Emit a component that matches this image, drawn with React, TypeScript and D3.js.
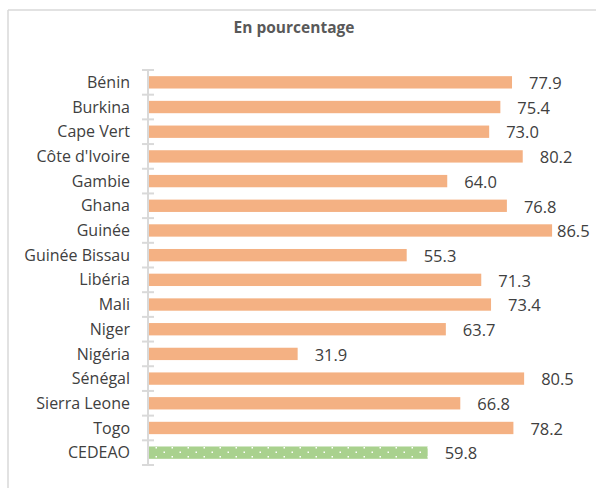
import React from "react";
import * as d3 from "d3";

const categories = ["Bénin", "Burkina", "Cape Vert", "Côte d'Ivoire", "Gambie", "Ghana", "Guinée", "Guinée Bissau", "Libéria", "Mali", "Niger", "Nigéria", "Sénégal", "Sierra Leone", "Togo", "CEDEAO"];
const values = [77.9, 75.4, 73.0, 80.2, 64.0, 76.8, 86.5, 55.3, 71.3, 73.4, 63.7, 31.9, 80.5, 66.8, 78.2, 59.8];
const title = "En pourcentage";

const W = 596;
const H = 488;

export default function App() {
  const x = d3.scaleLinear().domain([0, 100]).range([149, 615]);
  const y = d3.scaleBand<string>().domain(categories).range([70, 465]).paddingInner(0.5).paddingOuter(0.25);
  const bw = y.bandwidth();
  const tickYs = d3.range(categories.length + 1).map((i) => 70 + i * (395 / categories.length));
  const font = "'Open Sans', 'DejaVu Sans', sans-serif";
  return (
    <svg width={W} height={H} style={{ position: "absolute", left: 0, top: 0, background: "#fff" }}>
      <defs>
        <pattern id="dots" width={16} height={9} patternUnits="userSpaceOnUse">
          <rect width={16} height={9} fill="#a9d18e" />
          <rect x={3.5} y={1.5} width={1.5} height={1.5} fill="#ffffff" />
          <rect x={11.5} y={6} width={1.5} height={1.5} fill="#ffffff" />
        </pattern>
      </defs>
      <line x1={8} x2={8} y1={10} y2={H} stroke="#d9d9d9" strokeWidth={1.5} />
      <line x1={8} x2={W} y1={10} y2={10} stroke="#d9d9d9" strokeWidth={1.5} />
      <text x={294} y={33} textAnchor="middle" fontFamily={font} fontWeight="bold" fontSize={15.5} fill="#595959">
        {title}
      </text>
      <line x1={148} x2={148} y1={70} y2={465} stroke="#d9d9d9" strokeWidth={2} />
      {tickYs.map((t, i) => (
        <line key={i} x1={142} x2={154} y1={t} y2={t} stroke="#d9d9d9" strokeWidth={2} />
      ))}
      {categories.map((c, i) => {
        const yy = y(c)!;
        const last = c === "CEDEAO";
        const lx = Math.min(x(values[i]) + 17, 557);
        return (
          <g key={c}>
            <rect x={x(0)} y={yy} width={x(values[i]) - x(0)} height={bw} fill={last ? "url(#dots)" : "#f4b183"} />
            <text x={130} y={yy + bw / 2} dy="0.35em" textAnchor="end" fontFamily={font} fontSize={16} fill="#404040">
              {c}
            </text>
            <text x={lx} y={yy + bw / 2 + 1} dy="0.35em" fontFamily={font} fontSize={16.5} fill="#404040">
              {values[i].toFixed(1)}
            </text>
          </g>
        );
      })}
    </svg>
  );
}
